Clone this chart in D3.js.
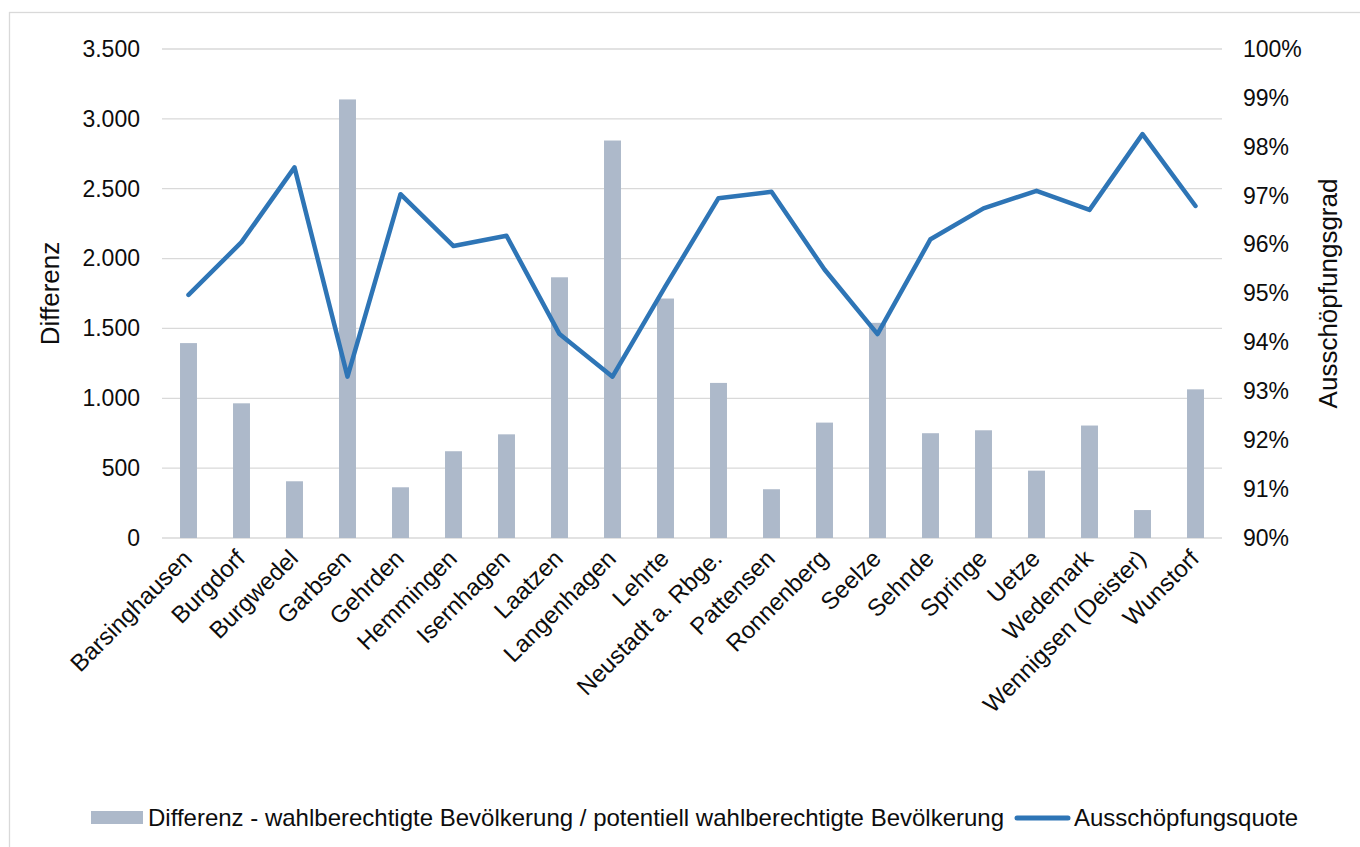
<!DOCTYPE html>
<html lang="de">
    <head>
        <meta charset="UTF-8">
        <title>Differenz und Ausschöpfungsquote</title>
        <script type="text/javascript" src="https://cdnjs.cloudflare.com/ajax/libs/d3/7.8.5/d3.min.js"></script>
        <style>
            html, body { margin: 0; padding: 0; background: #fff; }
            svg { display: block; font-family: "Liberation Sans", Arial, sans-serif; }
            .tick-label { font-size: 23px; fill: #0d0d0d; }
            .cat-label { font-size: 24px; fill: #0d0d0d; }
            .axis-title { font-size: 26px; fill: #0d0d0d; }
            .legend-label { font-size: 24px; fill: #0d0d0d; }
        </style>
    </head>
    <body>
        <div id="chart"></div>
        <script type="text/javascript">
            var WIDTH = 1360;
            var HEIGHT = 847;

            var categories = [
                'Barsinghausen', 'Burgdorf', 'Burgwedel', 'Garbsen', 'Gehrden',
                'Hemmingen', 'Isernhagen', 'Laatzen', 'Langenhagen', 'Lehrte',
                'Neustadt a. Rbge.', 'Pattensen', 'Ronnenberg', 'Seelze', 'Sehnde',
                'Springe', 'Uetze', 'Wedemark', 'Wennigsen (Deister)', 'Wunstorf'
            ];

            // Differenz - wahlberechtigte / potentiell wahlberechtigte Bevoelkerung
            var differenz = [
                1395, 964, 406, 3139, 363,
                621, 742, 1866, 2845, 1714,
                1110, 349, 826, 1540, 750,
                771, 482, 805, 200, 1064
            ];

            // Ausschoepfungsquote (Anteil)
            var quote = [
                0.9497, 0.9605, 0.9758, 0.9330, 0.9703,
                0.9597, 0.9618, 0.9417, 0.9330, 0.9515,
                0.9695, 0.9708, 0.9549, 0.9417, 0.9611,
                0.9674, 0.9710, 0.9671, 0.9826, 0.9679
            ];

            var leftTicks = [0, 500, 1000, 1500, 2000, 2500, 3000, 3500];
            var rightTicks = [0.90, 0.91, 0.92, 0.93, 0.94, 0.95, 0.96, 0.97, 0.98, 0.99, 1.00];

            var legendLabels = [
                'Differenz - wahlberechtigte Bevölkerung / potentiell wahlberechtigte Bevölkerung',
                'Ausschöpfungsquote'
            ];

            var PLOT = { left: 162, right: 1222, top: 49, bottom: 538 };

            var de = d3.formatLocale({ decimal: ',', thousands: '.', grouping: [3], currency: ['', ' €'] });
            var fmtNum = de.format(',d');
            var fmtPct = function (v) { return Math.round(v * 100) + '%'; };

            var svg = d3.select('#chart').append('svg')
                .attr('width', WIDTH)
                .attr('height', HEIGHT);

            // chart frame
            svg.append('rect')
                .attr('x', 9.5)
                .attr('y', 12.5)
                .attr('width', WIDTH + 20)
                .attr('height', HEIGHT + 20)
                .attr('fill', '#fff')
                .attr('stroke', '#d9d9d9')
                .attr('stroke-width', 1.3);

            var x = d3.scaleBand()
                .domain(categories)
                .range([PLOT.left, PLOT.right])
                .paddingInner(0.68)
                .paddingOuter(0.34);

            var yLeft = d3.scaleLinear()
                .domain([0, 3500])
                .range([PLOT.bottom, PLOT.top]);

            var yRight = d3.scaleLinear()
                .domain([0.90, 1.00])
                .range([PLOT.bottom, PLOT.top]);

            // gridlines
            svg.append('g')
                .selectAll('line')
                .data(leftTicks)
                .join('line')
                .attr('x1', PLOT.left)
                .attr('x2', PLOT.right)
                .attr('y1', function (d) { return yLeft(d); })
                .attr('y2', function (d) { return yLeft(d); })
                .attr('stroke', '#d9d9d9')
                .attr('stroke-width', 1.3);

            // left axis
            var leftAxis = svg.append('g')
                .attr('transform', 'translate(' + (PLOT.left - 22) + ',0)')
                .call(d3.axisLeft(yLeft).tickValues(leftTicks).tickFormat(fmtNum).tickSize(0).tickPadding(0));
            leftAxis.attr('font-size', null).attr('font-family', null);
            leftAxis.select('.domain').remove();
            leftAxis.selectAll('text').attr('class', 'tick-label');

            // right axis
            var rightAxis = svg.append('g')
                .attr('transform', 'translate(' + (PLOT.right + 21) + ',0)')
                .call(d3.axisRight(yRight).tickValues(rightTicks).tickFormat(fmtPct).tickSize(0).tickPadding(0));
            rightAxis.attr('font-size', null).attr('font-family', null);
            rightAxis.select('.domain').remove();
            rightAxis.selectAll('text').attr('class', 'tick-label');

            // bars
            svg.append('g')
                .selectAll('rect')
                .data(differenz)
                .join('rect')
                .attr('x', function (d, i) { return x(categories[i]); })
                .attr('y', function (d) { return yLeft(d); })
                .attr('width', x.bandwidth())
                .attr('height', function (d) { return yLeft(0) - yLeft(d); })
                .attr('fill', '#adb9ca');

            // line
            var line = d3.line()
                .x(function (d, i) { return x(categories[i]) + x.bandwidth() / 2; })
                .y(function (d) { return yRight(d); });

            svg.append('path')
                .datum(quote)
                .attr('d', line)
                .attr('fill', 'none')
                .attr('stroke', '#2e75b6')
                .attr('stroke-width', 4.5)
                .attr('stroke-linejoin', 'round')
                .attr('stroke-linecap', 'round');

            // category labels
            svg.append('g')
                .selectAll('text')
                .data(categories)
                .join('text')
                .attr('class', 'cat-label')
                .attr('text-anchor', 'end')
                .attr('transform', function (d) {
                    var cx = x(d) + x.bandwidth() / 2 - 1;
                    return 'translate(' + cx + ',554) rotate(-45)';
                })
                .attr('dy', '0.35em')
                .text(function (d) { return d; });

            // axis titles
            svg.append('text')
                .attr('class', 'axis-title')
                .attr('text-anchor', 'middle')
                .attr('transform', 'translate(59,' + ((PLOT.top + PLOT.bottom) / 2) + ') rotate(-90)')
                .text('Differenz');

            svg.append('text')
                .attr('class', 'axis-title')
                .attr('text-anchor', 'middle')
                .attr('transform', 'translate(1337,' + ((PLOT.top + PLOT.bottom) / 2) + ') rotate(-90)')
                .text('Ausschöpfungsgrad');

            // legend
            var legend = svg.append('g');

            legend.append('rect')
                .attr('x', 91)
                .attr('y', 811)
                .attr('width', 52)
                .attr('height', 13)
                .attr('fill', '#adb9ca');

            legend.append('text')
                .attr('class', 'legend-label')
                .attr('x', 148)
                .attr('y', 826)
                .text(legendLabels[0]);

            legend.append('line')
                .attr('x1', 1017)
                .attr('x2', 1068)
                .attr('y1', 818)
                .attr('y2', 818)
                .attr('stroke', '#2e75b6')
                .attr('stroke-width', 5)
                .attr('stroke-linecap', 'round');

            legend.append('text')
                .attr('class', 'legend-label')
                .attr('x', 1074)
                .attr('y', 826)
                .text(legendLabels[1]);
        </script>
    </body>
</html>
